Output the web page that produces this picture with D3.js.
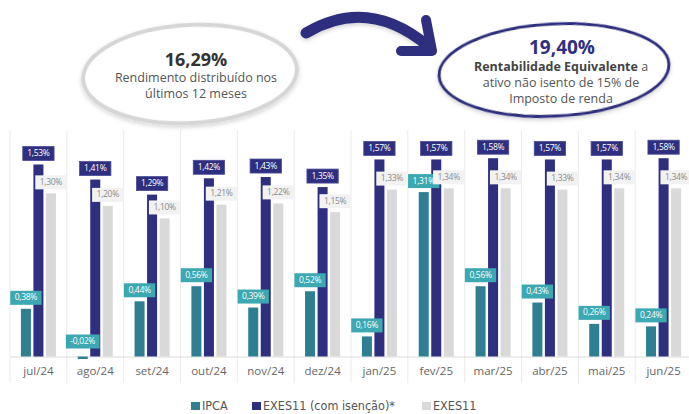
<!DOCTYPE html>
<html>
<head>
<meta charset="utf-8">
<script src="https://cdn.jsdelivr.net/npm/d3@7"></script>
<style>
  html, body { margin: 0; padding: 0; background: #fff; }
  svg { display: block; }
  text { font-family: "Open Sans", sans-serif; }
</style>
</head>
<body>
<svg id="chart" width="689" height="414"></svg>
<script>
var months = ["jul/24", "ago/24", "set/24", "out/24", "nov/24", "dez/24", "jan/25", "fev/25", "mar/25", "abr/25", "mai/25", "jun/25"];
var ipca = [0.38, -0.02, 0.44, 0.56, 0.39, 0.52, 0.16, 1.31, 0.56, 0.43, 0.26, 0.24];
var exesIsencao = [1.53, 1.41, 1.29, 1.42, 1.43, 1.35, 1.57, 1.57, 1.58, 1.57, 1.57, 1.58];
var exes = [1.30, 1.20, 1.10, 1.21, 1.22, 1.15, 1.33, 1.34, 1.34, 1.33, 1.34, 1.34];
var seriesNames = ["IPCA", "EXES11 (com isenção)*", "EXES11"];

var barColors = ["#2f7f93", "#2e2f7e", "#d9d9d9"],
    labelFill = ["#3ba8b2", "#2e2f7e", "#f2f2f2"],
    labelText = ["#ffffff", "#ffffff", "#8a8a8a"];

var svg = d3.select("#chart");

var x = d3.scaleBand().domain(months).range([10, 692]);
var xs = d3.scaleBand().domain(d3.range(3)).range([0, x.bandwidth()])
    .paddingInner(0.2).paddingOuter(0.87);
var y = d3.scaleLinear().domain([0, 1.6]).range([356.5, 155.7]);

var rows = months.map(function(m, i) {
    return { month: m, values: [ipca[i], exesIsencao[i], exes[i]] };
});

// grid
var grid = svg.append("g").attr("class", "grid");
grid.selectAll("line.v")
    .data(months.map(function(m) { return x(m); }).concat([x.range()[1]]))
    .enter().append("line")
    .attr("x1", function(d) { return d; })
    .attr("x2", function(d) { return d; })
    .attr("y1", 130)
    .attr("y2", 383)
    .attr("stroke", "#ececec")
    .attr("stroke-width", 1);

// x axis
var xAxis = svg.append("g")
    .attr("transform", "translate(0," + y(0) + ")")
    .call(d3.axisBottom(x).tickSize(0).tickPadding(10));
xAxis.select(".domain").attr("stroke", "#dcdcdc");
xAxis.selectAll("text")
    .attr("fill", "#666")
    .style("font-family", "'Open Sans', sans-serif")
    .style("font-size", "11.5px");

// bars
var groups = svg.append("g").selectAll("g.month")
    .data(rows)
    .enter().append("g")
    .attr("transform", function(d) { return "translate(" + x(d.month) + ",0)"; });

groups.selectAll("rect.bar")
    .data(function(d) { return d.values; })
    .enter().append("rect")
    .attr("class", "bar")
    .attr("x", function(d, i) { return xs(i); })
    .attr("width", xs.bandwidth())
    .attr("y", function(d) { return y(Math.max(0, d)); })
    .attr("height", function(d) { return Math.max(Math.abs(y(d) - y(0)), 1.5); })
    .attr("fill", function(d, i) { return barColors[i]; });

// value labels
var fmt = function(v) { return d3.format(".2f")(v).replace(".", ",").replace("−", "-") + "%"; };

groups.each(function(d) {
    var g = d3.select(this);
    d.values.forEach(function(v, i) {
        var cx = xs(i) + xs.bandwidth() / 2,
            bottom = y(Math.max(0, v)) - (v < 0 ? 8 : 4),
            lg = g.append("g");
        var t = lg.append("text")
            .attr("x", cx)
            .attr("y", bottom - 4.5)
            .attr("text-anchor", "middle")
            .attr("fill", labelText[i])
            .style("font-size", "8.5px")
            .style("letter-spacing", "-0.3px")
            .text(fmt(v));
        var w = t.node().getComputedTextLength() + 9;
        lg.insert("rect", "text")
            .attr("x", cx - w / 2)
            .attr("y", bottom - 14)
            .attr("width", w)
            .attr("height", 14)
            .attr("fill", labelFill[i])
            .attr("stroke", i === 1 ? "#4a4b98" : "none")
            .attr("stroke-width", 0.8);
    });
});

// header: ellipses, arrow and texts
var defs = svg.append("defs");
var shadow = defs.append("filter").attr("id", "shadow")
    .attr("x", "-20%").attr("y", "-30%").attr("width", "140%").attr("height", "160%");
shadow.append("feDropShadow").attr("dx", 0).attr("dy", 2).attr("stdDeviation", 2)
    .attr("flood-color", "#000").attr("flood-opacity", 0.18);

svg.append("ellipse")
    .attr("cx", 190).attr("cy", 74).attr("rx", 107).attr("ry", 49)
    .attr("transform", "rotate(-3 190 74)")
    .attr("fill", "#fff")
    .attr("stroke", "#d6d6d6")
    .attr("stroke-width", 4)
    .attr("filter", "url(#shadow)");

svg.append("ellipse")
    .attr("cx", 554).attr("cy", 70).attr("rx", 115).attr("ry", 46)
    .attr("transform", "rotate(-3 554 70)")
    .attr("fill", "#fff")
    .attr("stroke", "#2e2f7e")
    .attr("stroke-width", 3)
    .attr("filter", "url(#shadow)");

svg.append("path")
    .attr("d", "M306,33 Q368,-4 428,46")
    .attr("fill", "none")
    .attr("stroke", "#2e2f7e")
    .attr("stroke-width", 11)
    .attr("stroke-linecap", "round")
    .attr("filter", "url(#shadow)");
svg.append("path")
    .attr("d", "M401,51 L432,51 L426,20")
    .attr("fill", "none")
    .attr("stroke", "#2e2f7e")
    .attr("stroke-width", 10)
    .attr("stroke-linecap", "round")
    .attr("stroke-linejoin", "round");

var left = svg.append("g").attr("text-anchor", "middle");
left.append("text").attr("x", 196).attr("y", 66)
    .attr("fill", "#333").style("font-size", "18px").style("font-weight", "bold")
    .text("16,29%");
left.append("text").attr("x", 196).attr("y", 82)
    .attr("fill", "#555").style("font-size", "12.5px")
    .text("Rendimento distribuído nos");
left.append("text").attr("x", 196).attr("y", 98)
    .attr("fill", "#555").style("font-size", "12.5px")
    .text("últimos 12 meses");

var right = svg.append("g").attr("text-anchor", "middle");
right.append("text").attr("x", 562).attr("y", 54)
    .attr("fill", "#2e2f7e").style("font-size", "19px").style("font-weight", "bold")
    .text("19,40%");
var r2 = right.append("text").attr("x", 561).attr("y", 71)
    .attr("fill", "#555").style("font-size", "12.5px");
r2.append("tspan").style("font-weight", "bold").attr("fill", "#444").text("Rentabilidade Equivalente");
r2.append("tspan").text(" a");
right.append("text").attr("x", 561).attr("y", 87)
    .attr("fill", "#555").style("font-size", "12.5px")
    .text("ativo não isento de 15% de");
right.append("text").attr("x", 561).attr("y", 103)
    .attr("fill", "#555").style("font-size", "12.5px")
    .text("Imposto de renda");

// legend
var legendX = [191, 252, 422];
var legend = svg.append("g").selectAll("g.legend")
    .data(seriesNames)
    .enter().append("g")
    .attr("transform", function(d, i) { return "translate(" + legendX[i] + ",401)"; });
legend.append("rect")
    .attr("width", 9).attr("height", 8).attr("y", 1)
    .attr("fill", function(d, i) { return barColors[i]; });
legend.append("text")
    .attr("x", 11).attr("y", 9)
    .attr("fill", "#555")
    .style("font-family", "'DejaVu Sans Condensed', 'DejaVu Sans', sans-serif")
    .style("font-stretch", "condensed")
    .style("font-size", "12.5px")
    .text(function(d) { return d; });
</script>
</body>
</html>
